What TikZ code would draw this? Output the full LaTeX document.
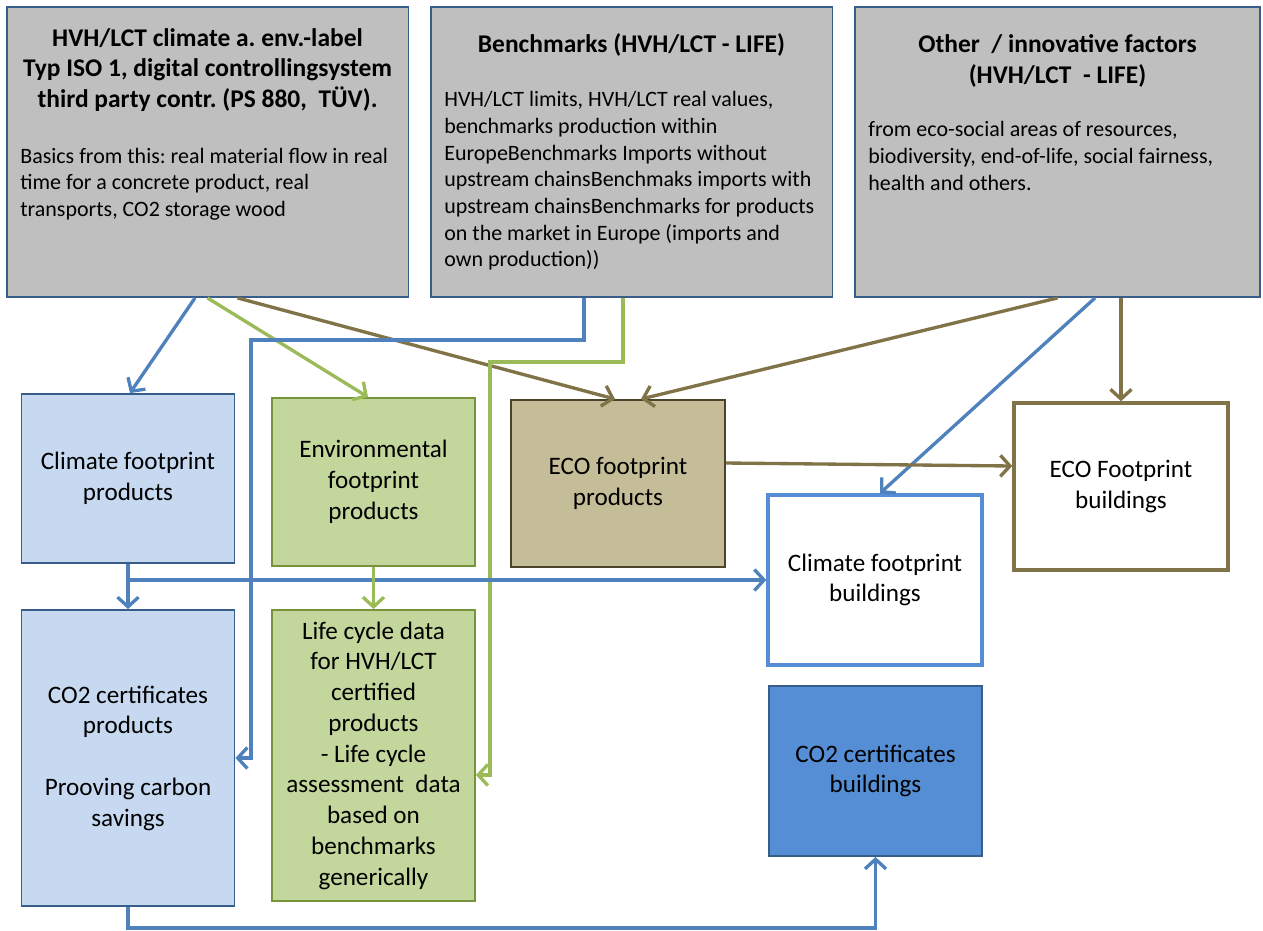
\documentclass[tikz,border=0pt]{standalone}
\usepackage{fontspec}
\setmainfont{Carlito}
\usetikzlibrary{arrows.meta}
\frenchspacing
\definecolor{srcGray}{HTML}{BFBFBF}
\definecolor{srcLine}{HTML}{385D8A}
\definecolor{paleBlue}{HTML}{C6D9F1}
\definecolor{midBlue}{HTML}{558ED5}
\definecolor{arrBlue}{HTML}{4F81BD}
\definecolor{paleGreen}{HTML}{C3D69B}
\definecolor{greenLine}{HTML}{77933C}
\definecolor{arrGreen}{HTML}{9BBB59}
\definecolor{tan}{HTML}{C4BD97}
\definecolor{tanLine}{HTML}{4A452A}
\definecolor{arrOlive}{HTML}{7F7347}
\tikzstyle{source}=[draw=srcLine, fill=srcGray, line width=1.1pt, minimum width=8.04cm, minimum height=5.8cm]
\tikzstyle{title}=[font=\bfseries\fontsize{14.5}{17.5}\selectfont, align=center, inner sep=0pt]
\tikzstyle{body}=[font=\fontsize{12.5}{15.2}\selectfont, align=left, anchor=west, inner sep=0pt]
\tikzstyle{box}=[line width=1.1pt, font=\fontsize{14.3}{17.5}\selectfont, align=center, minimum width=4.26cm]
\tikzstyle{flowB}=[arrBlue, line width=1.9pt, -{Straight Barb[length=5.5pt, width=12pt]}]
\tikzstyle{flowG}=[arrGreen, line width=1.9pt, -{Straight Barb[length=5.5pt, width=12pt]}]
\tikzstyle{flowO}=[arrOlive, line width=1.9pt, -{Straight Barb[length=5.5pt, width=12pt]}]

\begin{document}
\begin{tikzpicture}[x=0.02cm, y=-0.02cm]
	\useasboundingbox (0,0) rectangle (1263,930);

	% Sources
	\node[source] (t1) at (207.5, 152) {};
	\node[source] (t2) at (631.5, 152) {};
	\node[source, minimum width=8.1cm] (t3) at (1057.5, 152) {};

	\node[title] (t1title) at (207.5, 70) {HVH/LCT climate a. env.-label\\Typ ISO 1, digital controllingsystem\\third party contr. (PS 880,\ \ TÜV).};
	\node[body] (t1body) at (20, 184) {Basics from this: real material flow in real\\time for a concrete product, real\\transports, CO2 storage wood};

	\node[title] (t2title) at (631.5, 45) {Benchmarks (HVH/LCT - LIFE)};
	\node[body] (t2body) at (444, 181) {HVH/LCT limits, HVH/LCT real values,\\benchmarks production within\\EuropeBenchmarks Imports without\\upstream chainsBenchmaks imports with\\upstream chainsBenchmarks for products\\on the market in Europe (imports and\\own production))};

	\node[title] (t3title) at (1057.5, 61) {Other\ \ / innovative factors\\(HVH/LCT\ \ - LIFE)};
	\node[body] (t3body) at (868, 156) {from eco-social areas of resources,\\biodiversity, end-of-life, social fairness,\\health and others.};

	% Footprints
	\node[box, draw=srcLine, fill=paleBlue, minimum height=3.38cm] (cfp) at (128, 478.5) {Climate footprint\\products};
	\node[box, draw=greenLine, fill=paleGreen, minimum width=4.06cm, minimum height=3.36cm] (efp) at (373.5, 482) {Environmental\\footprint\\products};
	\node[box, draw=tanLine, fill=tan, minimum width=4.28cm, minimum height=3.34cm] (ecop) at (618, 483.5) {ECO footprint\\products};
	\node[box, draw=arrOlive, line width=2pt, minimum width=4.28cm, minimum height=3.34cm] (ecob) at (1121, 486.5) {ECO Footprint\\buildings};
	\node[box, draw=midBlue, line width=2pt, minimum width=4.28cm, minimum height=3.4cm] (cfb) at (875, 580) {Climate footprint\\buildings};
	\node[box, draw=srcLine, fill=midBlue, minimum height=3.4cm] (co2b) at (875.5, 771) {CO2 certificates\\buildings};

	% Certificates and data
	\node[box, draw=srcLine, fill=paleBlue, minimum height=5.92cm] (co2p) at (128, 758) {CO2 certificates\\products\\[17.5pt]Prooving carbon\\savings};
	\node[box, draw=greenLine, fill=paleGreen, minimum width=4.06cm, minimum height=5.82cm] (lcd) at (373.5, 755.5) {Life cycle data\\for HVH/LCT\\certified\\products\\- Life cycle\\assessment\ \ data\\based on\\benchmarks\\generically};

	% Flows from the sources
	\draw[flowB] ([xshift=-0.25cm]t1.south) -- ([xshift=0.04cm]cfp.north);
	\draw[flowG] (t1.south) -- ([xshift=-0.11cm]efp.north);
	\draw[flowO] ([xshift=0.6cm]t1.south) -- ([xshift=-0.06cm]ecop.north);
	\draw[flowB] ([xshift=-0.95cm]t2.south) |- (251, 340) |- (co2p.east);
	\draw[flowG] ([xshift=-0.17cm]t2.south) |- (490, 362) |- ([yshift=-0.39cm]lcd.east);
	\draw[flowO] (t3.south) -- ([xshift=0.46cm]ecop.north);
	\draw[flowB] ([xshift=0.75cm]t3.south) -- ([xshift=0.1cm]cfb.north);
	\draw[flowO] (t3.south -| ecob.north) -- (ecob.north);

	% Flows between the boxes
	\draw[flowO] ([yshift=0.41cm]ecop.east) -- ([yshift=0.41cm]ecob.west);
	\draw[flowB] (cfp.south) -- (co2p.north);
	\draw[flowB] (cfp.south |- cfb.west) -- (cfb.west);
	\draw[flowG] (efp.south) -- (lcd.north);
	\draw[flowB] (co2p.south) -- ++(0, 21) -| (co2b.south);
\end{tikzpicture}
\end{document}
